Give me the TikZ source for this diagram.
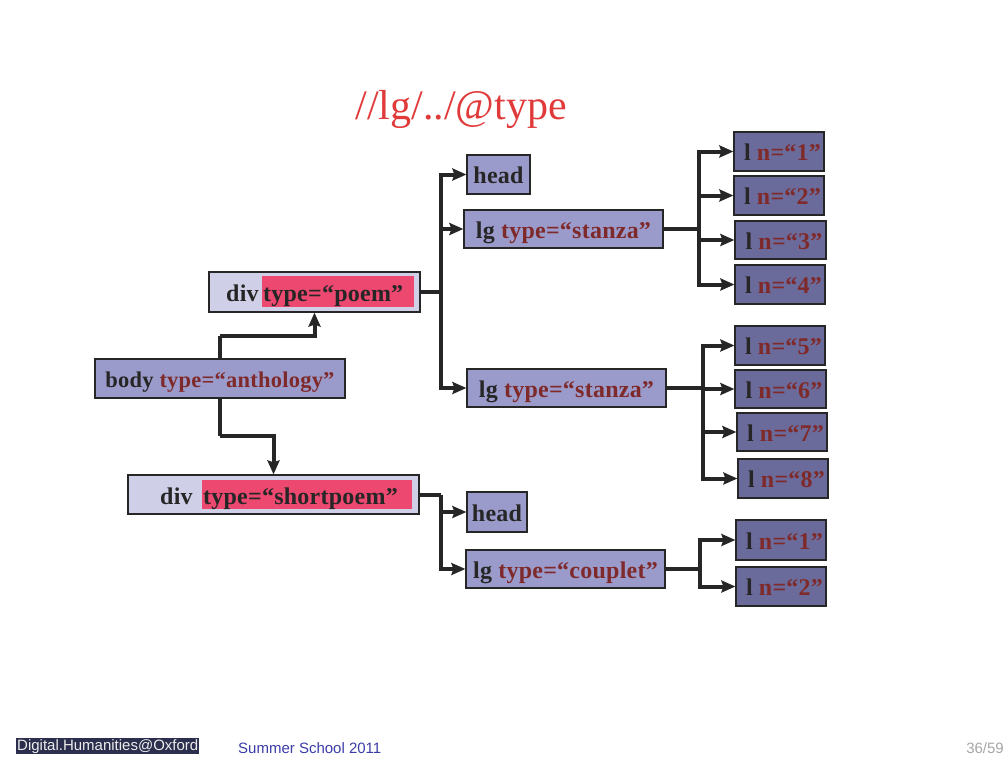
\documentclass[tikz,border=0pt]{standalone}
\usepackage{fontspec}
\setmainfont{Liberation Serif}
\newfontfamily\boxfont[LetterSpace=1]{Liberation Serif}
\newfontfamily\footfont{Liberation Sans}
\usetikzlibrary{arrows.meta}
\definecolor{lightbox}{HTML}{CFCFE8}
\definecolor{midbox}{HTML}{9B9BCB}
\definecolor{darkbox}{HTML}{6B6B9B}
\definecolor{hilite}{HTML}{EC4870}
\definecolor{maroon}{HTML}{7F2A2A}
\definecolor{ink}{HTML}{262626}
\definecolor{titlered}{HTML}{E03A3A}
\definecolor{navy}{HTML}{2B2E4C}
\definecolor{footblue}{HTML}{3A3CA8}
\tikzset{
  btext/.style={font=\boxfont\fontsize{24}{24}\selectfont\bfseries, text=ink},
  box/.style={draw=ink, line width=1.2pt, inner sep=0pt, text height=18pt, text depth=0pt, btext},
  lightb/.style={box, fill=lightbox},
  midb/.style={box, fill=midbox},
  darkb/.style={box, fill=darkbox, execute at begin node=\hspace*{7pt}},
  conn/.style={draw=ink, line width=4pt, line join=miter},
  arr/.style={conn, -{Stealth[length=14pt,width=12pt,inset=2pt]}},
  plain/.style={anchor=base west, inner sep=0pt, btext},
}
\begin{document}
\begin{tikzpicture}[x=1pt,y=-1pt]
\useasboundingbox (0,0) rectangle (1008,756);
% title
\node[anchor=base, text=titlered, font=\fontsize{42}{42}\selectfont, inner sep=0pt] (title) at (461,119) {//lg/../@type};

% div poem
\node[lightb, minimum width=211pt, minimum height=40pt] (divp) at (314.5,292) {};
\node[fill=hilite, inner sep=0pt, minimum width=152pt, minimum height=31pt] (divph) at (338,291.5) {};
\node[plain] (divpt) at (226,301) {div};
\node[plain] (divpv) at (263,301) {type=“poem”};

% body
\node[midb, minimum width=250pt, minimum height=39pt, font=\boxfont\fontsize{22.5}{22.5}\selectfont\bfseries] (body) at (220,378.5) {body \textcolor{maroon}{type=“anthology”}};

% div shortpoem
\node[lightb, minimum width=291pt, minimum height=39pt] (divs) at (273.5,494.5) {};
\node[fill=hilite, inner sep=0pt, minimum width=210pt, minimum height=29pt] (divsh) at (307,494.5) {};
\node[plain] (divst) at (160,504) {div};
\node[plain] (divsv) at (203,504) {type=“shortpoem”};

% poem children
\node[midb, minimum width=63pt, minimum height=39pt] (head1) at (498.5,174.5) {head};
\node[midb, minimum width=199pt, minimum height=38pt] (st1) at (563.5,229) {lg \textcolor{maroon}{type=“stanza”}};
\node[midb, minimum width=199pt, minimum height=38pt] (st2) at (566.5,388) {lg \textcolor{maroon}{type=“stanza”}};

% l nodes stanza 1
\node[darkb, minimum width=90pt, minimum height=39pt] (l1) at (779,151.5) {l \textcolor{maroon}{n=“1”}};
\node[darkb, minimum width=90pt, minimum height=39pt] (l2) at (779,195.5) {l \textcolor{maroon}{n=“2”}};
\node[darkb, minimum width=91pt, minimum height=38pt] (l3) at (780.5,240) {l \textcolor{maroon}{n=“3”}};
\node[darkb, minimum width=90pt, minimum height=39pt] (l4) at (780,284.5) {l \textcolor{maroon}{n=“4”}};
% l nodes stanza 2
\node[darkb, minimum width=90pt, minimum height=39pt] (l5) at (780,345.5) {l \textcolor{maroon}{n=“5”}};
\node[darkb, minimum width=91pt, minimum height=38pt] (l6) at (780.5,389) {l \textcolor{maroon}{n=“6”}};
\node[darkb, minimum width=90pt, minimum height=38pt] (l7) at (782,432) {l \textcolor{maroon}{n=“7”}};
\node[darkb, minimum width=90pt, minimum height=39pt] (l8) at (783,478.5) {l \textcolor{maroon}{n=“8”}};

% shortpoem children
\node[midb, minimum width=60pt, minimum height=40pt] (head2) at (497,512) {head};
\node[midb, minimum width=199pt, minimum height=38pt] (cp) at (565.5,569) {lg \textcolor{maroon}{type=“couplet”}};
\node[darkb, minimum width=90pt, minimum height=40pt] (c1) at (781,540) {l \textcolor{maroon}{n=“1”}};
\node[darkb, minimum width=90pt, minimum height=39pt] (c2) at (781,586.5) {l \textcolor{maroon}{n=“2”}};

% connectors
\coordinate (b1) at (220,336);
\coordinate (b2) at (220,436);
\draw[conn] (body.north) -- (b1);
\draw[arr] (b1) -| (divp.south);
\draw[conn] (body.south) -- (b2);
\draw[arr] (b2) -| (divs.north);

\coordinate (j1) at (441,292);
\draw[conn] (divp.east) -- (j1);
\draw[arr] (j1) |- (head1.west);
\draw[arr] (j1) |- (st1.west);
\draw[arr] (j1) |- (st2.west);

\coordinate (j2) at (699,229);
\draw[conn] (st1.east) -- (j2);
\foreach \n in {l1,l2,l3,l4} \draw[arr] (j2) |- (\n.west);

\coordinate (j3) at (703,388);
\draw[conn] (st2.east) -- (j3);
\foreach \n in {l5,l6,l7,l8} \draw[arr] (j3) |- (\n.west);

\coordinate (j4) at (441,494.5);
\draw[conn] (divs.east) -- (j4);
\draw[arr] (j4) |- (head2.west);
\draw[arr] (j4) |- (cp.west);

\coordinate (j5) at (700,569);
\draw[conn] (cp.east) -- (j5);
\draw[arr] (j5) |- (c1.west);
\draw[arr] (j5) |- (c2.west);

% footer
\node[fill=navy, text=white!85!gray, font=\footfont\fontsize{15}{15}\selectfont, inner sep=1pt, anchor=west, text height=11pt, text depth=3pt] (dh) at (16,746) {Digital.Humanities@Oxford};
\node[text=footblue, font=\footfont\fontsize{15}{15}\selectfont, inner sep=0pt, anchor=base west] (ss) at (238,753) {Summer School 2011};
\node[text=gray!70, font=\footfont\fontsize{15}{15}\selectfont, inner sep=0pt, anchor=base east] (pg) at (1004,753) {36/59};
\end{tikzpicture}
\end{document}
